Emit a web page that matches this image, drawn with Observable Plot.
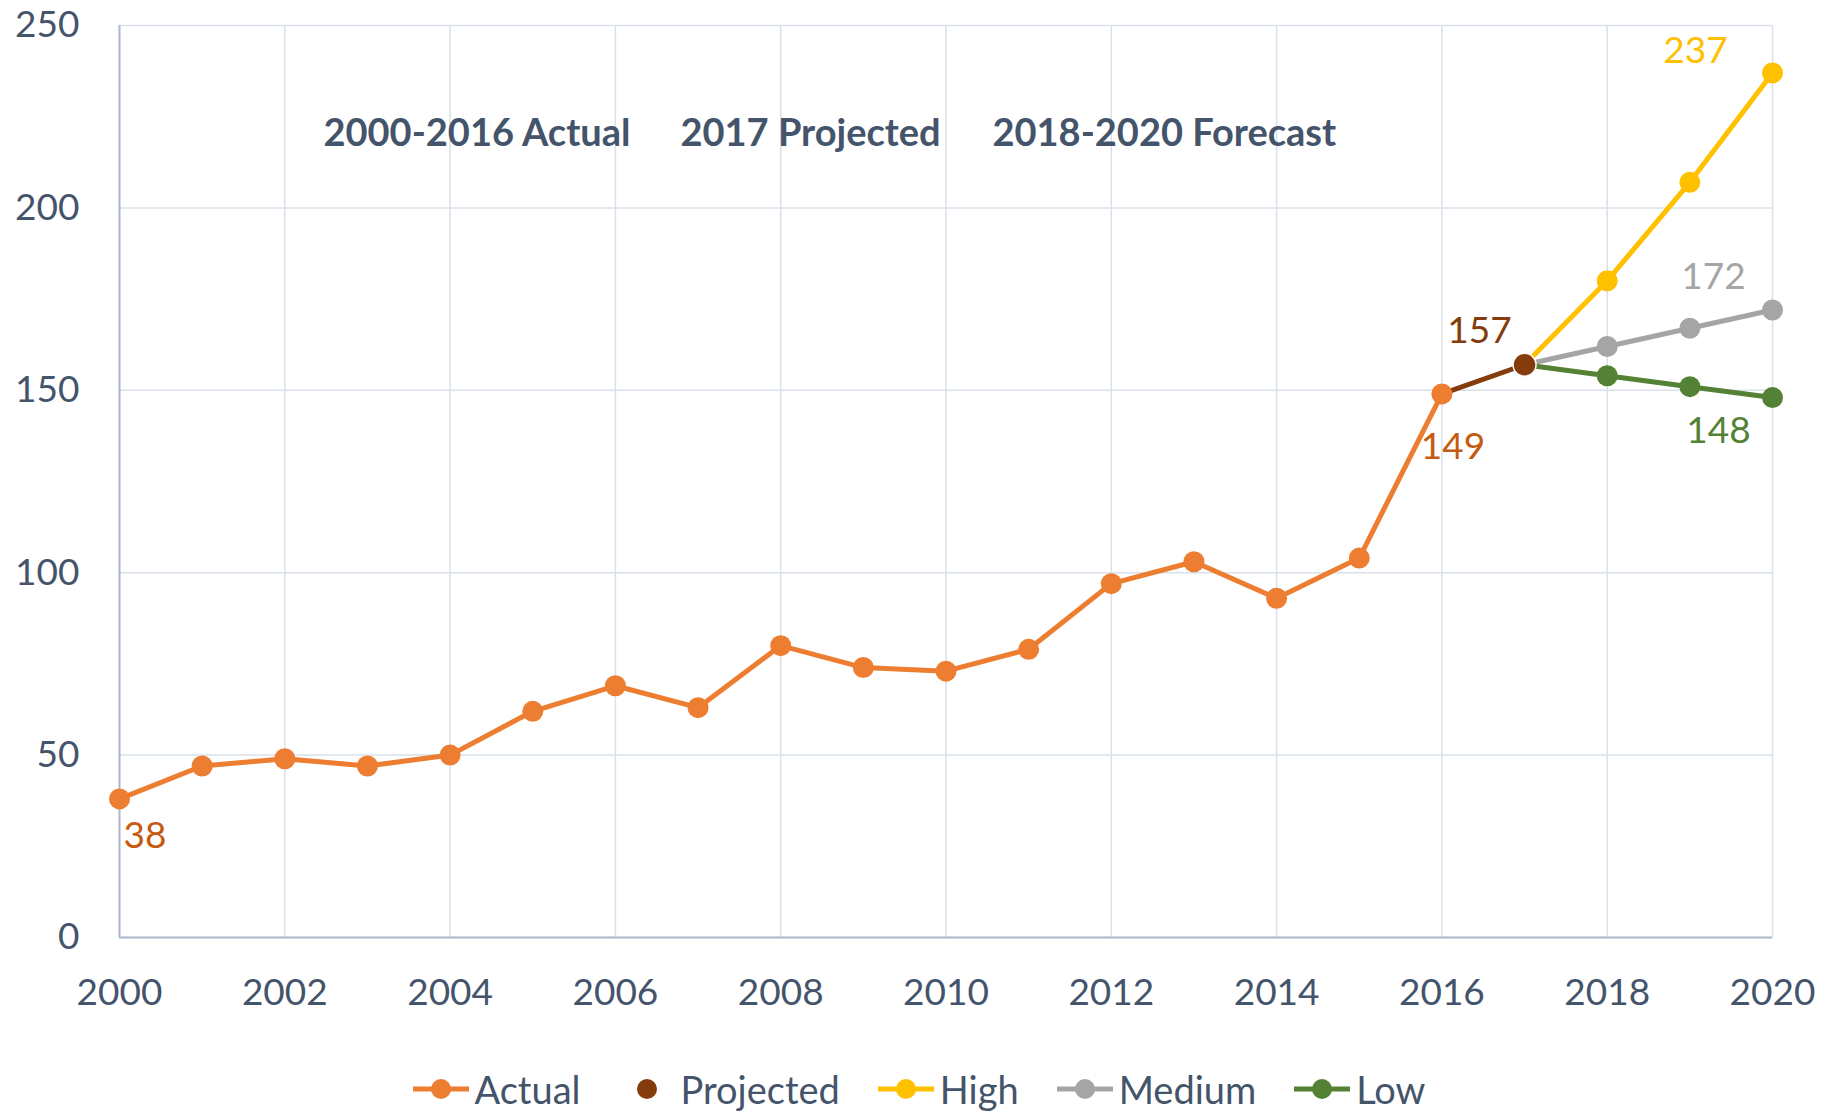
<!DOCTYPE html>
<html><head><meta charset="utf-8">
<script src="https://cdn.jsdelivr.net/npm/d3@7"></script>
<script src="https://cdn.jsdelivr.net/npm/@observablehq/plot@0.6"></script>
<style>
body{margin:0;background:#fff;font-family:Lato,"Open Sans",sans-serif;color:#44546A;}
#wrap{position:relative;width:1824px;height:1112px;overflow:hidden}
#legend{display:flex;justify-content:center;align-items:center;gap:38px;height:40px;margin-top:19px;font-size:38px;margin-left:14px;line-height:40px}
.item{display:flex;align-items:center}
.item svg{margin-right:6px}
</style></head><body><div id="wrap"></div>
<script>
const actualYears=[2000,2001,2002,2003,2004,2005,2006,2007,2008,2009,2010,2011,2012,2013,2014,2015,2016];
const actualValues=[38,47,49,47,50,62,69,63,80,74,73,79,97,103,93,104,149];
const projectedYears=[2016,2017];
const projectedValues=[149,157];
const forecastYears=[2017,2018,2019,2020];
const highValues=[157,180,207,237];
const mediumValues=[157,162,167,172];
const lowValues=[157,154,151,148];
const xTicks=[2000,2002,2004,2006,2008,2010,2012,2014,2016,2018,2020];
const yTicks=[0,50,100,150,200,250];
const notes=["2000-2016 Actual","2017 Projected","2018-2020 Forecast"];
const seriesNames=["Actual","Projected","High","Medium","Low"];
const seriesColors=["#ED7D31","#843C0C","#FFC000","#A5A5A5","#548235"];
const actualLabelColor="#C55A11";

const toRows=(xs,vs)=>xs.map((x,i)=>({year:x,value:vs[i]}));
const actual=toRows(actualYears,actualValues);
const projected=toRows(projectedYears,projectedValues);
const high=toRows(forecastYears,highValues);
const medium=toRows(forecastYears,mediumValues);
const low=toRows(forecastYears,lowValues);
const [cA,cP,cH,cM,cL]=seriesColors;
const txt="#44546A";
const FS=37;
const SW=5;

const plot=Plot.plot({
  width:1824,height:1050,
  marginLeft:119,marginRight:52,marginTop:25,marginBottom:113,
  style:{fontFamily:"Lato, 'Open Sans', sans-serif",fontSize:FS+"px",color:txt,background:"#fff"},
  x:{domain:[2000,2020]},
  y:{domain:[0,250]},
  marks:[
    Plot.gridX(xTicks,{stroke:"#D9E1EA",strokeOpacity:1,strokeWidth:1.5}),
    Plot.gridY(yTicks,{stroke:"#D9E1EA",strokeOpacity:1,strokeWidth:1.5}),
    Plot.ruleX([2000],{stroke:"#ADB9CA",strokeWidth:2}),
    Plot.ruleY([0],{stroke:"#ADB9CA",strokeWidth:2}),
    Plot.axisY(yTicks,{tickSize:0,tickPadding:40,fontSize:FS,color:txt,label:null}),
    Plot.axisX(xTicks,{tickSize:0,tickPadding:41,fontSize:FS,color:txt,label:null,tickFormat:d=>String(d)}),
    Plot.text([notes[0]],{frameAnchor:"top-left",dx:204,dy:108,lineAnchor:"middle",textAnchor:"start",text:d=>d,fontWeight:"bold",fontSize:38,fill:txt}),
    Plot.text([notes[1]],{frameAnchor:"top-left",dx:561,dy:108,lineAnchor:"middle",textAnchor:"start",text:d=>d,fontWeight:"bold",fontSize:38,fill:txt}),
    Plot.text([notes[2]],{frameAnchor:"top-left",dx:873,dy:108,lineAnchor:"middle",textAnchor:"start",text:d=>d,fontWeight:"bold",fontSize:38,fill:txt}),
    Plot.line(high,{x:"year",y:"value",stroke:cH,strokeWidth:SW}),
    Plot.line(medium,{x:"year",y:"value",stroke:cM,strokeWidth:SW}),
    Plot.line(low,{x:"year",y:"value",stroke:cL,strokeWidth:SW}),
    Plot.dot(high.slice(1),{x:"year",y:"value",r:10.5,fill:cH}),
    Plot.dot(medium.slice(1),{x:"year",y:"value",r:10.5,fill:cM}),
    Plot.dot(low.slice(1),{x:"year",y:"value",r:10.5,fill:cL}),
    Plot.line(projected,{x:"year",y:"value",stroke:cP,strokeWidth:SW}),
    Plot.line(actual,{x:"year",y:"value",stroke:cA,strokeWidth:SW}),
    Plot.dot(actual,{x:"year",y:"value",r:10.5,fill:cA}),
    Plot.dot(projected.slice(1),{x:"year",y:"value",r:11.5,fill:cP,stroke:"#fff",strokeWidth:1.5}),
    Plot.text([actual[0]],{x:"year",y:"value",text:d=>String(d.value),fill:actualLabelColor,textAnchor:"start",dx:4,dy:37,fontSize:FS}),
    Plot.text([actual[actual.length-1]],{x:"year",y:"value",text:d=>String(d.value),fill:actualLabelColor,dx:11,dy:53,fontSize:FS}),
    Plot.text([projected[1]],{x:"year",y:"value",text:d=>String(d.value),fill:cP,dx:-45,dy:-34,fontSize:FS}),
    Plot.text([high[high.length-1]],{x:"year",y:"value",text:d=>String(d.value),fill:cH,dx:-77,dy:-22,fontSize:FS}),
    Plot.text([medium[medium.length-1]],{x:"year",y:"value",text:d=>String(d.value),fill:cM,dx:-59,dy:-33,fontSize:FS}),
    Plot.text([low[low.length-1]],{x:"year",y:"value",text:d=>String(d.value),fill:cL,dx:-54,dy:34,fontSize:FS})
  ]
});
const wrap=document.getElementById("wrap");
wrap.appendChild(plot);

const legend=document.createElement("div");
legend.id="legend";
seriesNames.forEach((name,i)=>{
  const item=document.createElement("div");
  item.className="item";
  const c=seriesColors[i];
  const hasLine=name!=="Projected";
  item.innerHTML=`<svg width="56" height="24">${hasLine?`<line x1="0" x2="56" y1="12" y2="12" stroke="${c}" stroke-width="5"/>`:""}<circle cx="28" cy="12" r="10" fill="${c}"/></svg><span>${name}</span>`;
  legend.appendChild(item);
});
wrap.appendChild(legend);
</script></body></html>
